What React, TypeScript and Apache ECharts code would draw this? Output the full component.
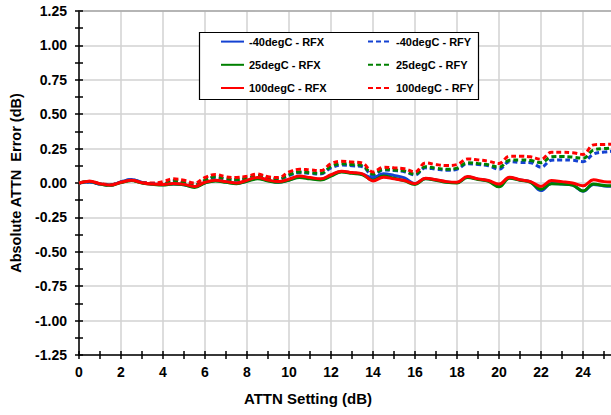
import React, { useEffect, useRef } from "react";
import * as echarts from "echarts";

const attnSteps = [
  0, 0.5, 1, 1.5, 2, 2.5, 3, 3.5, 4, 4.5, 5, 5.5, 6, 6.5, 7, 7.5, 8, 8.5, 9, 9.5, 10, 10.5, 11, 11.5, 12, 12.5,
  13, 13.5, 14, 14.5, 15, 15.5, 16, 16.5, 17, 17.5, 18, 18.5, 19, 19.5, 20, 20.5, 21, 21.5, 22, 22.5, 23, 23.5,
  24, 24.5, 25, 25.5, 26,
];

const m40RFX = [
  0, 0.008, -0.008, -0.015, 0.008, 0.025, 0.004, -0.008, -0.012, -0.008, -0.012, -0.028, 0.002, 0.018, 0.008,
  -0.002, 0.015, 0.035, 0.018, 0.006, 0.022, 0.045, 0.035, 0.025, 0.055, 0.084, 0.074, 0.064, 0.037, 0.067,
  0.055, 0.037, -0.005, 0.032, 0.022, 0.008, 0.003, 0.043, 0.028, 0.015, -0.02, 0.038, 0.022, 0.008, -0.055,
  -0.003, -0.008, -0.015, -0.06, -0.01, -0.022, -0.024, -0.025,
];
const p25RFX = [
  0, 0.01, -0.007, -0.017, 0.003, 0.018, 0.0, -0.01, -0.015, -0.008, -0.013, -0.032, 0.0, 0.015, 0.005, -0.005,
  0.012, 0.03, 0.015, 0.005, 0.02, 0.04, 0.03, 0.022, 0.05, 0.08, 0.07, 0.06, 0.02, 0.05, 0.035, 0.015, -0.01,
  0.03, 0.02, 0.005, 0.0, 0.04, 0.025, 0.012, -0.028, 0.035, 0.02, 0.005, -0.045, -0.005, -0.008, -0.015, -0.058,
  -0.008, -0.018, -0.02, -0.022,
];
const p100RFX = [
  0, 0.012, -0.005, -0.015, 0.005, 0.02, 0.002, -0.008, -0.01, -0.004, -0.01, -0.025, 0.005, 0.02, 0.01, 0.0,
  0.02, 0.04, 0.022, 0.01, 0.028, 0.05, 0.04, 0.03, 0.06, 0.086, 0.076, 0.066, 0.015, 0.042, 0.03, 0.018, -0.005,
  0.035, 0.023, 0.01, 0.006, 0.047, 0.03, 0.018, -0.008, 0.042, 0.023, 0.01, -0.025, 0.018, 0.01, 0.0, -0.02,
  0.023, 0.01, 0.006, 0.004,
];
const m40RFY = [
  0, 0.008, -0.008, -0.015, 0.008, 0.024, 0.004, -0.006, -0.008, 0.015, 0.0, -0.018, 0.015, 0.04, 0.025, 0.02,
  0.03, 0.05, 0.032, 0.025, 0.055, 0.075, 0.07, 0.065, 0.11, 0.13, 0.125, 0.118, 0.055, 0.095, 0.09, 0.082,
  0.058, 0.11, 0.1, 0.093, 0.1, 0.14, 0.135, 0.125, 0.1, 0.155, 0.15, 0.148, 0.115, 0.165, 0.168, 0.165, 0.155,
  0.21, 0.225, 0.232, 0.238,
];
const p25RFY = [
  0, 0.01, -0.007, -0.015, 0.005, 0.018, 0.002, -0.005, -0.005, 0.02, 0.005, -0.015, 0.02, 0.045, 0.03, 0.025,
  0.035, 0.055, 0.035, 0.03, 0.06, 0.08, 0.075, 0.07, 0.12, 0.14, 0.134, 0.126, 0.065, 0.1, 0.095, 0.088, 0.065,
  0.118, 0.108, 0.1, 0.108, 0.148, 0.142, 0.132, 0.115, 0.165, 0.168, 0.163, 0.148, 0.19, 0.192, 0.188, 0.18,
  0.24, 0.25, 0.255, 0.258,
];
const p100RFY = [
  0, 0.012, -0.005, -0.012, 0.008, 0.02, 0.005, 0.0, 0.01, 0.03, 0.02, 0.0, 0.04, 0.062, 0.045, 0.04, 0.05,
  0.065, 0.045, 0.04, 0.08, 0.1, 0.095, 0.09, 0.14, 0.158, 0.152, 0.144, 0.08, 0.115, 0.11, 0.103, 0.08, 0.146,
  0.134, 0.127, 0.134, 0.175, 0.168, 0.158, 0.142, 0.195, 0.195, 0.19, 0.172, 0.224, 0.224, 0.22, 0.208, 0.277,
  0.28, 0.282, 0.285,
];

const seriesNames = [
  "-40degC - RFX",
  "25degC - RFX",
  "100degC - RFX",
  "-40degC - RFY",
  "25degC - RFY",
  "100degC - RFY",
];
const seriesValues = [m40RFX, p25RFX, p100RFX, m40RFY, p25RFY, p100RFY];
const seriesColors = ["#1442d2", "#008000", "#ff0000", "#1442d2", "#008000", "#ff0000"];
const seriesDashed = [false, false, false, true, true, true];

const FONT = "'Liberation Sans', Arial, Helvetica, sans-serif";

export default function App() {
  const ref = useRef<HTMLDivElement>(null);
  useEffect(() => {
    if (!ref.current) return;
    const chart = echarts.init(ref.current, null, { renderer: "svg" });
    const grid = { left: 79, top: 11, width: 546, height: 344, containLabel: false, outerBoundsMode: "none" };
    const xBase = { type: "value", min: 0, max: 26, gridIndex: 0, position: "bottom" };
    const yBase = { type: "value", min: -1.25, max: 1.25, gridIndex: 0, position: "left" };
    const off = { show: false };
    const legendBase = {
      orient: "vertical",
      top: 36,
      padding: 0,
      itemWidth: 23,
      itemHeight: 14,
      itemGap: 12,
      itemStyle: { opacity: 0 },
      textStyle: { color: "#000", fontSize: 11, fontWeight: "bold", fontFamily: FONT },
    };
    const option: any = {
      animation: false,
      backgroundColor: "#ffffff",
      grid,
      xAxis: [
        {
          ...xBase,
          interval: 2,
          axisLine: { show: true, onZero: false, lineStyle: { color: "#000", width: 1.5 } },
          axisTick: off,
          splitLine: { show: true, lineStyle: { color: "#d2d2d2", width: 1.5 } },
          axisLabel: {
            margin: 10,
            color: "#000",
            fontSize: 14,
            fontWeight: "bold",
            fontFamily: FONT,
            formatter: (v: number) => (v > 25 ? "" : String(v)),
          },
        },
        {
          ...xBase,
          interval: 1,
          axisLine: { show: false, onZero: false },
          axisTick: { show: true, length: 4, lineStyle: { color: "#000", width: 1.5 } },
          axisLabel: off,
          splitLine: off,
        },
        {
          ...xBase,
          interval: 1,
          axisLine: { show: false, onZero: false },
          axisTick: { show: true, inside: true, length: 4, lineStyle: { color: "#000", width: 1.5 } },
          axisLabel: off,
          splitLine: off,
        },
        {
          ...xBase,
          position: "top",
          interval: 2,
          axisLine: { show: true, onZero: false, lineStyle: { color: "#a8a8a8", width: 1.5 } },
          axisTick: off,
          axisLabel: off,
          splitLine: off,
        },
      ],
      yAxis: [
        {
          ...yBase,
          interval: 0.25,
          axisLine: { show: true, onZero: false, lineStyle: { color: "#000", width: 1.5 } },
          axisTick: off,
          splitLine: { show: true, lineStyle: { color: "#d2d2d2", width: 1.5 } },
          axisLabel: {
            margin: 12,
            color: "#000",
            fontSize: 14,
            fontWeight: "bold",
            fontFamily: FONT,
            formatter: (v: number) => v.toFixed(2),
          },
        },
        {
          ...yBase,
          interval: 0.125,
          axisLine: { show: false, onZero: false },
          axisTick: { show: true, length: 4, lineStyle: { color: "#000", width: 1.5 } },
          axisLabel: off,
          splitLine: off,
        },
        {
          ...yBase,
          interval: 0.125,
          axisLine: { show: false, onZero: false },
          axisTick: { show: true, inside: true, length: 4, lineStyle: { color: "#000", width: 1.5 } },
          axisLabel: off,
          splitLine: off,
        },
      ],
      legend: [
        { ...legendBase, data: seriesNames.slice(0, 3), left: 220 },
        { ...legendBase, data: seriesNames.slice(3), left: 367 },
      ],
      graphic: [
        {
          type: "rect",
          z: 3,
          shape: { x: 199.5, y: 32.5, width: 279, height: 67 },
          style: { fill: "#fff", stroke: "#000", lineWidth: 1.2 },
        },
        {
          type: "text",
          x: 308,
          y: 398,
          style: {
            text: "ATTN Setting (dB)",
            fill: "#000",
            font: `bold 15px ${FONT}`,
            align: "center",
            verticalAlign: "middle",
          },
        },
        {
          type: "text",
          x: 16,
          y: 183,
          rotation: Math.PI / 2,
          style: {
            text: "Absolute ATTN  Error (dB)",
            fill: "#000",
            font: `bold 14.5px ${FONT}`,
            align: "center",
            verticalAlign: "middle",
          },
        },
      ],
      series: seriesNames.map((name, i) => ({
        name,
        type: "line",
        xAxisIndex: 0,
        yAxisIndex: 0,
        smooth: 0.4,
        symbol: "none",
        color: seriesColors[i],
        lineStyle: {
          color: seriesColors[i],
          width: 3,
          type: seriesDashed[i] ? [5, 3] : "solid",
        },
        z: seriesDashed[i] ? 2 : 3,
        data: attnSteps.map((x, j) => [x, seriesValues[i][j]]),
      })),
    };
    chart.setOption(option);
    return () => chart.dispose();
  }, []);
  return (
    <div
      ref={ref}
      style={{ position: "absolute", left: 0, top: 0, width: 611, height: 415, overflow: "hidden" }}
    />
  );
}
